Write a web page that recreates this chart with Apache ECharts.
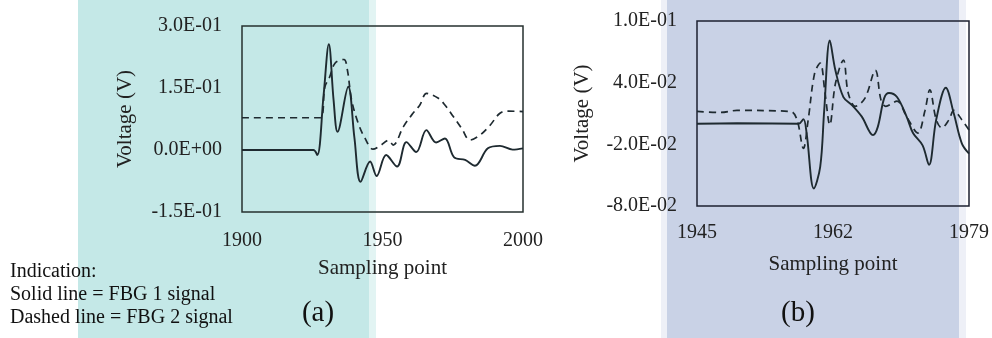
<!DOCTYPE html>
<html>
<head>
<meta charset="utf-8">
<title>FBG signals</title>
<script src="https://cdn.jsdelivr.net/npm/echarts@6/dist/echarts.min.js"></script>
<style>
  html, body { margin: 0; padding: 0; background: #fff; }
  #chart { width: 992px; height: 338px; }
</style>
</head>
<body>
<div id="chart"></div>
<script>
// panel (a): sampling point 1900 - 2000
var xTicksA = [1900, 1950, 2000]
var yTicksA = [-0.15, 0, 0.15, 0.30]
var fbg1A = [
  [1900, 0], [1925.4, 0], [1926.8, -0.012], [1929, 0.13], [1930.9, 0.256], [1932.6, 0.12],
  [1934, 0.044], [1937.8, 0.153], [1940, 0.03], [1942.2, -0.077], [1945.6, -0.028],
  [1947.9, -0.063], [1951.3, -0.012], [1955.2, -0.040], [1958.5, 0.019], [1962, -0.005],
  [1965.6, 0.048], [1969.1, 0.018], [1972.2, 0.028], [1975.5, -0.018], [1979.4, -0.024],
  [1982.9, -0.038], [1987.5, 0.004], [1991.8, 0.010], [1996.3, 0.001], [2000, 0.004]
]
var fbg2A = [
  [1900, 0.078], [1927.8, 0.078], [1929.5, 0.153], [1931.1, 0.175], [1933.1, 0.21],
  [1936.3, 0.219], [1937.5, 0.194], [1939, 0.121], [1941.4, 0.064], [1943.8, 0.028],
  [1946.6, 0.002], [1949.1, 0.010], [1952.1, 0.023], [1953.8, 0.012], [1957.4, 0.056],
  [1960.4, 0.085], [1963.3, 0.109], [1965.7, 0.137], [1969.9, 0.125], [1972.2, 0.109],
  [1975.2, 0.081], [1978.2, 0.052], [1981.1, 0.024], [1984.7, 0.036], [1988.3, 0.060],
  [1991.8, 0.089], [1994.8, 0.094], [2000, 0.093]
]

// panel (b): zoom on 1945 - 1979
var xTicksB = [1945, 1962, 1979]
var yTicksB = [-0.08, -0.02, 0.04, 0.10]
var fbg1B = [
  [1945, 0], [1950, 0.0005], [1957.7, 0], [1958.3, 0.0045], [1958.7, -0.009], [1959.6, -0.063],
  [1960.4, -0.042], [1960.9, 0.013], [1961.6, 0.081], [1962.3, 0.052], [1963.3, 0.026],
  [1964.4, 0.018], [1965.6, 0.007], [1967.0, -0.011], [1967.6, -0.003], [1968.4, 0.025],
  [1969.0, 0.030], [1970.0, 0.026], [1971.2, 0.007], [1972.0, -0.009], [1973.2, -0.021],
  [1974.0, -0.040], [1974.9, 0.004], [1976.1, 0.035], [1977.1, 0.010], [1978.1, -0.019],
  [1979, -0.029]
]
var fbg2B = [
  [1945, 0.012], [1948, 0.011], [1950, 0.013], [1956.7, 0.012], [1957.5, 0.004],
  [1958.3, -0.024], [1958.9, 0.004], [1959.7, 0.049], [1960.4, 0.059], [1961.0, 0.030],
  [1961.6, -0.001], [1962.3, 0.039], [1963.3, 0.062], [1963.9, 0.030], [1964.8, 0.017],
  [1966.0, 0.025], [1967.3, 0.052], [1968.0, 0.023], [1968.6, 0.017], [1970.0, 0.022],
  [1971.2, 0.007], [1972.6, -0.009], [1973.5, 0.013], [1974.1, 0.033], [1974.9, 0.004],
  [1975.6, -0.004], [1976.5, 0.004], [1977.1, 0.013], [1978.1, 0.004], [1979, -0.006]
]

var FONT = 'Liberation Serif'
var INK = '#1e2a30'

// 0.15 -> "1.5E-01"
function sci(v) {
  if (Math.abs(v) < 1e-12) return '0.0E+00'
  var e = Math.floor(Math.log10(Math.abs(v)) + 1e-9)
  var m = Math.round(v / Math.pow(10, e) * 10) / 10
  var ee = Math.abs(e)
  return m.toFixed(1) + 'E' + (e < 0 ? '-' : '+') + (ee < 10 ? '0' : '') + ee
}

function xAxisOf(idx, ticks, gap, margin) {
  return {
    type: 'value', gridIndex: idx,
    min: ticks[0], max: ticks[ticks.length - 1],
    name: 'Sampling point', nameLocation: 'middle', nameGap: gap,
    nameTextStyle: { fontFamily: FONT, fontSize: 21, color: '#222' },
    axisLine: { show: false },
    axisTick: { show: false },
    splitLine: { show: false },
    axisLabel: {
      customValues: ticks, margin: margin,
      formatter: function (v) { return String(Math.round(v)) },
      fontFamily: FONT, fontSize: 20, color: '#222'
    }
  }
}

function yAxisOf(idx, ticks, gap) {
  return {
    type: 'value', gridIndex: idx,
    min: ticks[0], max: ticks[ticks.length - 1],
    name: 'Voltage (V)', nameLocation: 'middle', nameGap: gap,
    nameTextStyle: { fontFamily: FONT, fontSize: 21, color: '#222' },
    axisLine: { show: false },
    axisTick: { show: false },
    splitLine: { show: false },
    axisLabel: {
      customValues: ticks, margin: 20, formatter: sci,
      fontFamily: FONT, fontSize: 20, color: '#222'
    }
  }
}

function lineOf(name, data, idx, dashed) {
  return {
    name: name, type: 'line', xAxisIndex: idx, yAxisIndex: idx,
    data: data, smooth: 0.35, showSymbol: false, silent: true,
    lineStyle: { color: INK, width: dashed ? 1.7 : 1.9, type: dashed ? [7, 5] : 'solid' }
  }
}

function rect(x, w, color) {
  return { type: 'rect', z: -10, silent: true, shape: { x: x, y: 0, width: w, height: 338 }, style: { fill: color } }
}

function label(x, y, text, size, align) {
  return {
    type: 'text', x: x, y: y, silent: true,
    style: { text: text, fontFamily: FONT, fontSize: size, fill: '#111', align: align || 'left', verticalAlign: 'middle' }
  }
}

var chart = echarts.init(document.getElementById('chart'), null, { renderer: 'canvas' })
chart.setOption({
  animation: false,
  backgroundColor: '#fff',
  grid: [
    { left: 242, top: 26, width: 281, height: 186, show: true, borderColor: '#26302f', borderWidth: 1.5, backgroundColor: 'transparent' },
    { left: 697, top: 21, width: 280, height: 185, show: true, borderColor: '#1c2030', borderWidth: 1.5, backgroundColor: 'transparent' }
  ],
  xAxis: [xAxisOf(0, xTicksA, 46, 19), xAxisOf(1, xTicksB, 48, 17)],
  yAxis: [yAxisOf(0, yTicksA, 106), yAxisOf(1, yTicksB, 104)],
  series: [
    lineOf('FBG 1', fbg1A, 0, false),
    lineOf('FBG 2', fbg2A, 0, true),
    lineOf('FBG 1', fbg1B, 1, false),
    lineOf('FBG 2', fbg2B, 1, true)
  ],
  graphic: [
    rect(78, 291, '#c4e8e7'),
    rect(369, 7, '#e2f4f3'),
    rect(661, 6, '#eef0f7'),
    rect(667, 292, '#c9d2e6'),
    rect(959, 7, '#eef0f7'),
    label(10, 272, 'Indication:', 20),
    label(10, 295, 'Solid line = FBG 1 signal', 20),
    label(10, 318, 'Dashed line = FBG 2 signal', 20),
    label(318, 313, '(a)', 29, 'center'),
    label(798, 313, '(b)', 29, 'center')
  ]
})
</script>
</body>
</html>
